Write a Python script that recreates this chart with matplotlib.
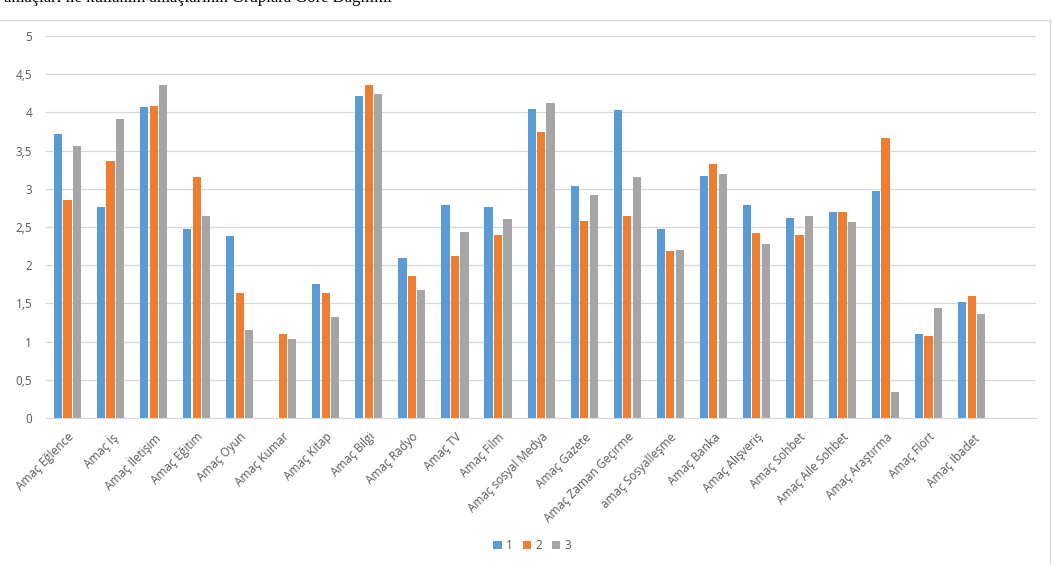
import matplotlib.pyplot as plt
import numpy as np
from matplotlib.patches import Rectangle
from matplotlib.ticker import FuncFormatter

plt.rcParams["font.family"] = ["Open Sans", "DejaVu Sans"]

categories = [
    "Amaç Eğlence", "Amaç İş", "Amaç İletişim", "Amaç Eğitim", "Amaç Oyun",
    "Amaç Kumar", "Amaç Kitap", "Amaç Bilgi", "Amaç Radyo", "Amaç TV",
    "Amaç Film", "Amaç sosyal Medya", "Amaç Gazete", "Amaç Zaman Geçirme",
    "amaç Sosyalleşme", "Amaç Banka", "Amaç Alışveriş", "Amaç Sohbet",
    "Amaç Aile Sohbet", "Amaç Araştırma", "Amaç Flört", "Amaç İbadet",
]
group1 = [3.72, 2.76, 4.07, 2.48, 2.38, 0.0, 1.76, 4.21, 2.10, 2.79, 2.76,
          4.04, 3.03, 4.03, 2.48, 3.17, 2.79, 2.62, 2.69, 2.97, 1.10, 1.52]
group2 = [2.85, 3.37, 4.08, 3.15, 1.64, 1.10, 1.64, 4.36, 1.86, 2.12, 2.40,
          3.74, 2.58, 2.65, 2.18, 3.32, 2.42, 2.40, 2.69, 3.67, 1.07, 1.60]
group3 = [3.56, 3.92, 4.36, 2.64, 1.15, 1.04, 1.32, 4.24, 1.68, 2.44, 2.60,
          4.12, 2.92, 3.16, 2.20, 3.20, 2.28, 2.64, 2.56, 0.34, 1.44, 1.36]
series_names = ["1", "2", "3"]
colors = ["#5B9BD5", "#ED7D31", "#A5A5A5"]

fig = plt.figure(figsize=(10.52, 5.65), dpi=100)
ax = fig.add_axes([0.0437, 0.2602, 0.9413, 0.6761])

x = np.arange(len(categories))
width = 0.19
offsets = [-0.22, 0.0, 0.22]
for values, name, color, off in zip([group1, group2, group3], series_names, colors, offsets):
    ax.bar(x + off, values, width, color=color, label=name, zorder=2)

ax.set_xlim(-0.5, len(categories) + 0.5)
ax.set_ylim(0, 5)
ax.set_yticks(np.arange(0, 5.01, 0.5))
ax.yaxis.set_major_formatter(FuncFormatter(lambda v, _: f"{v:g}".replace(".", ",")))
ax.grid(axis="y", color="#D9D9D9", linewidth=0.9, zorder=0)
for side in ["top", "right", "left"]:
    ax.spines[side].set_visible(False)
ax.spines["bottom"].set_color("#D9D9D9")
ax.tick_params(axis="both", length=0, colors="#595959", labelsize=8.5)
ax.tick_params(axis="y", pad=10)
ax.set_xticks(x)
ax.set_xticklabels(categories, rotation=45, ha="right", rotation_mode="anchor")
ax.tick_params(axis="x", pad=9)

handles, labels = ax.get_legend_handles_labels()
fig.legend(handles, labels, loc="center", bbox_to_anchor=(0.506, 0.034), ncol=3,
           frameon=False, fontsize=8.5, handlelength=0.7, handleheight=0.7,
           handletextpad=0.4, columnspacing=0.8, labelcolor="#595959")

# chart border
fig.patches.append(Rectangle((-0.01, -0.01), 1050 / 1052 + 0.01, 1 - 20 / 565 + 0.01,
                             transform=fig.transFigure, fill=False,
                             edgecolor="#D9D9D9", linewidth=1))

# caption above the chart, clipped by the top edge as in the source
fig.text(0.004, 1.003, "amaçları ile kullanım amaçlarının Gruplara Göre Dağılımı",
         family="Liberation Serif", fontsize=12, va="center", ha="left")

fig.savefig("out.png", dpi=100)
